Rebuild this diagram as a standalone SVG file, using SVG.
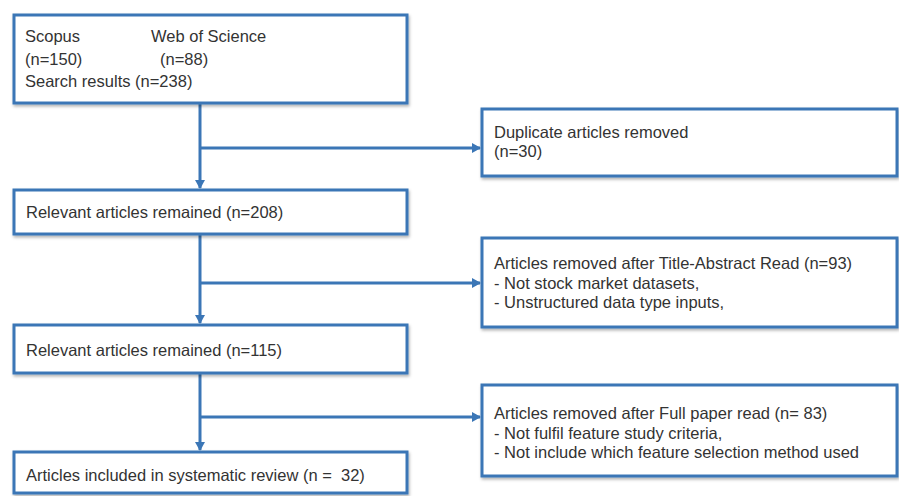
<svg xmlns="http://www.w3.org/2000/svg" width="899" height="496" viewBox="0 0 899 496">
<defs>
<filter id="sh" x="-5%" y="-10%" width="115%" height="130%">
<feDropShadow dx="1" dy="2" stdDeviation="1.5" flood-color="#000" flood-opacity="0.3"/>
</filter>
<marker id="ah" markerWidth="10" markerHeight="10" refX="8" refY="5" orient="auto" markerUnits="userSpaceOnUse">
<path d="M0,0 L9,5 L0,10 Z" fill="#3b76b6"/>
</marker>
</defs>
<style>
.box{fill:#fff;stroke:#3b76b6;stroke-width:3;filter:url(#sh)}
.t{font-family:"Liberation Sans",Arial,sans-serif;font-size:16.5px;fill:#333}
.c{stroke:#3b76b6;stroke-width:3;fill:none}
</style>
<rect width="899" height="496" fill="#fff"/>
<g id="connectors">
<path class="c" d="M200,104 V188" marker-end="url(#ah)"/>
<path class="c" d="M200,148 H480" marker-end="url(#ah)"/>
<path class="c" d="M200,234 V323" marker-end="url(#ah)"/>
<path class="c" d="M200,283 H480" marker-end="url(#ah)"/>
<path class="c" d="M200,373 V450" marker-end="url(#ah)"/>
<path class="c" d="M200,417 H480" marker-end="url(#ah)"/>
</g>
<g id="n1">
<rect class="box" x="14" y="15" width="393" height="88"/>
<text class="t" x="25" y="42">Scopus</text>
<text class="t" x="151" y="42">Web of Science</text>
<text class="t" x="25" y="65">(n=150)</text>
<text class="t" x="160" y="65">(n=88)</text>
<text class="t" x="25" y="87">Search results (n=238)</text>
</g>
<g id="n2">
<rect class="box" x="482" y="109" width="415" height="67"/>
<text class="t" x="494" y="138">Duplicate articles removed</text>
<text class="t" x="494" y="157">(n=30)</text>
</g>
<g id="n3">
<rect class="box" x="14" y="190" width="393" height="44"/>
<text class="t" x="26" y="218">Relevant articles remained (n=208)</text>
</g>
<g id="n4">
<rect class="box" x="482" y="238" width="415" height="89"/>
<text class="t" x="494" y="269">Articles removed after Title-Abstract Read (n=93)</text>
<text class="t" x="494" y="289">- Not stock market datasets,</text>
<text class="t" x="494" y="308">- Unstructured data type inputs,</text>
</g>
<g id="n5">
<rect class="box" x="14" y="325" width="393" height="48"/>
<text class="t" x="26" y="356">Relevant articles remained (n=115)</text>
</g>
<g id="n6">
<rect class="box" x="482" y="385" width="415" height="91"/>
<text class="t" x="494" y="419">Articles removed after Full paper read (n= 83)</text>
<text class="t" x="494" y="439">- Not  fulfil feature study criteria,</text>
<text class="t" x="494" y="458">- Not  include which feature selection method used</text>
</g>
<g id="n7">
<rect class="box" x="14" y="452" width="393" height="41"/>
<text class="t" x="26" y="481" xml:space="preserve">Articles included in systematic review (n =  32)</text>
</g>
</svg>
